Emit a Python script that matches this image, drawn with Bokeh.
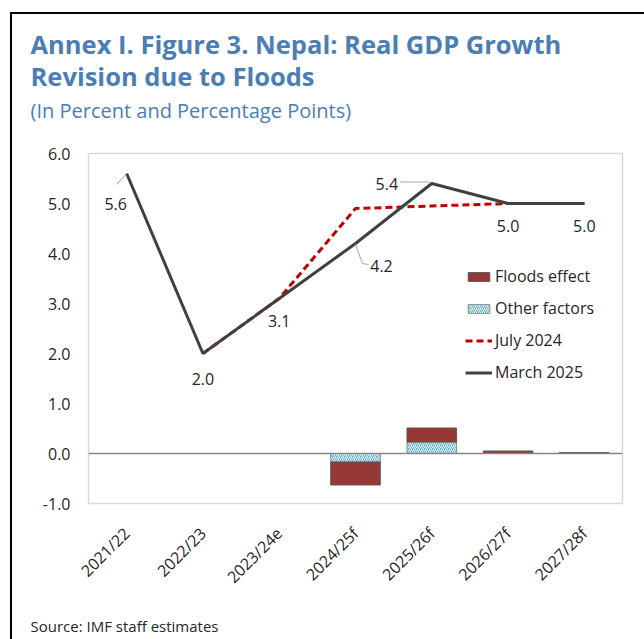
import numpy as np
from bokeh.plotting import figure
from bokeh.models import (FactorRange, Range1d, FixedTicker, NumeralTickFormatter,
                          Legend, LegendItem, Span, Title, ColumnDataSource)
from bokeh.core.properties import value
from bokeh.embed import file_html
from bokeh.resources import INLINE

# ---------------- data ----------------
categories = ["2021/22", "2022/23", "2023/24e", "2024/25f", "2025/26f", "2026/27f", "2027/28f"]
floods_effect = [0.0, 0.0, 0.0, -0.46, 0.28, 0.05, 0.0]
other_factors = [0.0, 0.0, 0.0, -0.17, 0.23, 0.0, 0.02]
july_2024 = [np.nan, 2.0, 3.1, 4.9, 4.95, 5.0, 5.0]
march_2025 = [5.6, 2.0, 3.1, 4.2, 5.4, 5.0, 5.0]
y_ticks = [-1, 0, 1, 2, 3, 4, 5, 6]

title_lines = ["Annex I. Figure 3. Nepal: Real GDP Growth", "Revision due to Floods"]
subtitle = "(In Percent and Percentage Points)"
source_note = "Source: IMF staff estimates"

# ---------------- styles ----------------
FONT = "Open Sans"
BLUE = "#4A7EB4"
TXT = "#262626"
RED_BAR = "#953735"
BLUE_BAR = "#5BB3CC"

p = figure(width=644, height=639,
           x_range=FactorRange(*categories), y_range=Range1d(-1, 6),
           output_backend="svg", toolbar_location=None,
           min_border_left=88, min_border_right=22,
           min_border_top=153, min_border_bottom=136)

p.background_fill_color = "white"
p.border_fill_color = None
p.outline_line_color = "#D9D9D9"
p.outline_line_width = 1.5
p.xgrid.grid_line_color = None
p.ygrid.grid_line_color = None
# outer black frame lines of the exhibit box (drawn as page background)
p.styles = {
    "background": ("linear-gradient(#000,#000) 10px 12px / 2px calc(100% - 12px) no-repeat, "
                   "linear-gradient(#000,#000) 10px 12px / calc(100% - 10px) 2px no-repeat, #fff"),
}

# axes
p.yaxis.ticker = FixedTicker(ticks=y_ticks)
p.yaxis.formatter = NumeralTickFormatter(format="0.0")
p.yaxis.axis_line_color = None
p.yaxis.major_tick_line_color = None
p.yaxis.minor_tick_line_color = None
p.yaxis.major_tick_out = 0
p.yaxis.minor_tick_out = 0
p.yaxis.major_label_standoff = 18
p.yaxis.major_label_text_font = FONT
p.yaxis.major_label_text_font_size = "16px"
p.yaxis.major_label_text_color = TXT

p.xaxis.axis_line_color = None
p.xaxis.major_tick_line_color = None
p.xaxis.minor_tick_line_color = None
p.xaxis.major_tick_out = 0
p.xaxis.minor_tick_out = 0
p.xaxis.major_label_orientation = np.pi / 4
p.xaxis.major_label_standoff = 27
p.xaxis.major_label_text_font = FONT
p.xaxis.major_label_text_font_size = "16px"
p.xaxis.major_label_text_color = TXT

# zero line
p.add_layout(Span(location=0, dimension="width", line_color="#868686", line_width=1.5))

# stacked bars: other factors next to zero, floods effect stacked beyond
other = np.array(other_factors)
floods = np.array(floods_effect)
bar_src = ColumnDataSource(dict(
    x=categories,
    o_bottom=np.zeros(len(categories)), o_top=other,
    f_bottom=other, f_top=other + floods,
))
r_other = p.vbar(x="x", bottom="o_bottom", top="o_top", width=0.65, source=bar_src,
                 fill_color=BLUE_BAR, line_color="#8C8C8C", line_width=1,
                 hatch_pattern="right_diagonal_line", hatch_color="white",
                 hatch_scale=4, hatch_weight=1)
r_floods = p.vbar(x="x", bottom="f_bottom", top="f_top", width=0.65, source=bar_src,
                  fill_color=RED_BAR, line_color="#595959", line_width=1)

# lines
r_july = p.line(categories, july_2024, line_color="#C00000", line_width=3,
                line_dash="7 4")
r_march = p.line(categories, march_2025, line_color="#404040", line_width=3)

# leader lines (style decorations, offsets in category/value units)
lead = [
    ((categories[0], 0.0), march_2025[0], (categories[0], -0.13), march_2025[0] - 0.22),
    ((categories[3], 0.0), march_2025[3] - 0.02, (categories[3], 0.09), march_2025[3] - 0.40),
    ((categories[3], 0.09), march_2025[3] - 0.40, (categories[3], 0.17), march_2025[3] - 0.42),
    ((categories[4], -0.03), march_2025[4] + 0.03, (categories[4], -0.41), march_2025[4] + 0.03),
]
p.segment(x0=[l[0] for l in lead], y0=[l[1] for l in lead],
          x1=[l[2] for l in lead], y1=[l[3] for l in lead],
          line_color="#A6A6A6", line_width=1)

# data labels for March 2025
lbl_dx = [-11, 0, 0, 26, -45, 0, 0]
lbl_dy = [30, 25, 22, 22, 0, 22, 22]
lbl_src = ColumnDataSource(dict(x=categories, y=march_2025,
                                t=[f"{v:.1f}" for v in march_2025],
                                dx=lbl_dx, dy=lbl_dy))
p.text(x="x", y="y", text="t", x_offset="dx", y_offset="dy", source=lbl_src,
       text_font=value(FONT), text_font_size="16px", text_color=TXT,
       text_align="center", text_baseline="middle")

# legend
legend = Legend(items=[
    LegendItem(label="Floods effect", renderers=[r_floods]),
    LegendItem(label="Other factors", renderers=[r_other]),
    LegendItem(label="July 2024", renderers=[r_july]),
    LegendItem(label="March 2025", renderers=[r_march]),
], location=(377, 120))
legend.label_text_font = FONT
legend.label_text_font_size = "16px"
legend.label_text_color = TXT
legend.glyph_width = 27
legend.glyph_height = 11
legend.label_height = 20
legend.label_standoff = 3
legend.spacing = 10
legend.padding = 0
legend.margin = 0
legend.border_line_alpha = 0
legend.background_fill_alpha = 0
p.add_layout(legend)

# titles (first added = closest to frame); the trailing/leading empty line
# acts as vertical spacing inside the title panels
p.add_layout(Title(text=subtitle + "\n", text_font=FONT, text_font_size="20px",
                   text_font_style="normal", text_color=BLUE, align="left",
                   offset=-58, standoff=0, text_line_height=1.10), "above")
p.add_layout(Title(text="\n".join(title_lines), text_font=FONT, text_font_size="25.5px",
                   text_font_style="bold", text_color=BLUE, align="left",
                   offset=-58, standoff=2, text_line_height=0.95), "above")
p.add_layout(Title(text="\n" + source_note, text_font=FONT, text_font_size="15px",
                   text_font_style="normal", text_color=TXT, align="left",
                   offset=-58, standoff=0, text_line_height=0.81), "below")

open("out.html", "w").write(file_html(p, INLINE))
